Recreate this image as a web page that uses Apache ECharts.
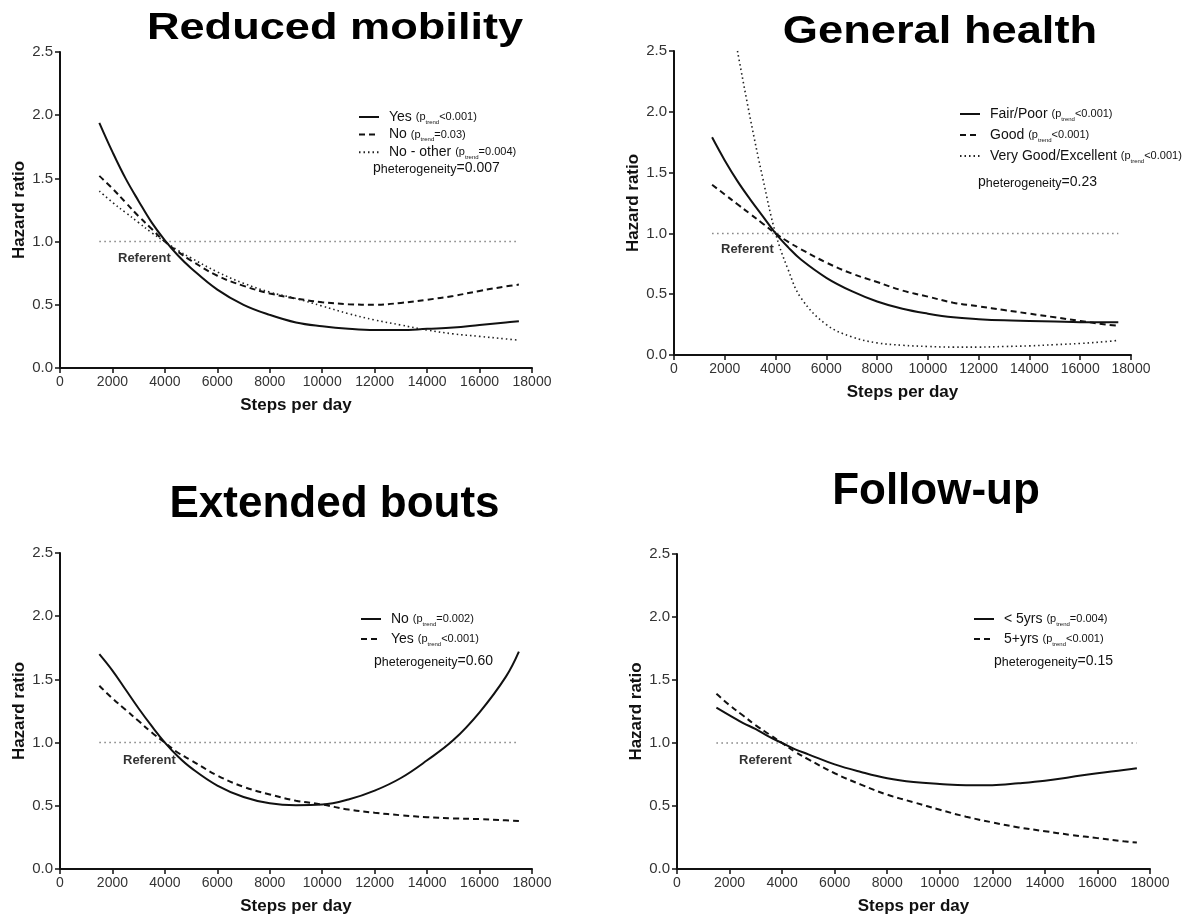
<!DOCTYPE html>
<html>
<head>
<meta charset="utf-8">
<script src="https://cdn.jsdelivr.net/npm/echarts@6/dist/echarts.min.js"></script>
<style>
html,body{margin:0;padding:0;background:#fff;}
#chart{width:1188px;height:919px;}
</style>
</head>
<body>
<div id="chart"></div>
<script>
// ---- data ----
const steps = [1500,2000,2500,3000,3500,4000,4500,5000,6000,7000,8000,9000,10000,11000,12000,13000,14000,15000,16000,17000,17500];
const refSteps = [1500,17500];
const refValues = [1,1];

// Reduced mobility
const mobYes   = [1.94,1.71,1.50,1.32,1.15,1.01,0.89,0.79,0.62,0.50,0.42,0.36,0.33,0.31,0.30,0.30,0.31,0.32,0.34,0.36,0.37];
const mobNo    = [1.52,1.42,1.31,1.20,1.10,1.00,0.92,0.85,0.73,0.65,0.59,0.55,0.52,0.505,0.50,0.515,0.54,0.57,0.61,0.645,0.66];
const mobOther = [1.40,1.31,1.23,1.15,1.07,1.00,0.93,0.87,0.76,0.67,0.60,0.55,0.49,0.43,0.38,0.34,0.30,0.27,0.25,0.23,0.22];

// General health
const ghFair = [1.79,1.60,1.43,1.28,1.14,1.00,0.885,0.785,0.635,0.525,0.44,0.38,0.34,0.31,0.295,0.285,0.28,0.275,0.27,0.27,0.27];
const ghGood = [1.40,1.32,1.24,1.16,1.08,1.00,0.93,0.87,0.76,0.67,0.60,0.53,0.48,0.43,0.40,0.37,0.34,0.31,0.28,0.25,0.24];
const ghVery = [null,null,2.50,1.95,1.45,1.00,0.70,0.47,0.25,0.15,0.10,0.08,0.07,0.065,0.065,0.07,0.075,0.085,0.095,0.11,0.12];

// Extended bouts
const boutNo  = [1.70,1.57,1.42,1.27,1.13,1.00,0.89,0.80,0.66,0.57,0.52,0.505,0.51,0.55,0.62,0.72,0.86,1.02,1.24,1.52,1.72];
const boutYes = [1.45,1.35,1.26,1.17,1.08,1.00,0.92,0.86,0.74,0.65,0.59,0.54,0.51,0.47,0.445,0.425,0.41,0.40,0.395,0.385,0.38];

// Follow-up
const fuLt5 = [1.28,1.22,1.16,1.11,1.05,1.00,0.95,0.91,0.83,0.77,0.72,0.69,0.675,0.665,0.665,0.68,0.70,0.73,0.76,0.785,0.80];
const fuGe5 = [1.39,1.30,1.22,1.14,1.07,1.00,0.93,0.87,0.76,0.67,0.59,0.53,0.47,0.415,0.37,0.33,0.30,0.27,0.245,0.22,0.21];

const panelTitles = ['Reduced mobility','General health','Extended bouts','Follow-up'];
const legendLabels = {
  mob_yes:['Yes','<0.001'], mob_no:['No','=0.03'], mob_other:['No - other','=0.004'],
  gh_fair:['Fair/Poor','<0.001'], gh_good:['Good','<0.001'], gh_very:['Very Good/Excellent','<0.001'],
  bout_no:['No','=0.002'], bout_yes:['Yes','<0.001'],
  fu_lt5:['< 5yrs','=0.004'], fu_ge5:['5+yrs','<0.001']
};
const hetValues = ['=0.007','=0.23','=0.60','=0.15'];

// ---- layout ----
const FF = '"Liberation Sans", Arial, Helvetica, sans-serif';
const grids = [
  {left:60,  top:52,  width:472, height:316},
  {left:674, top:51,  width:457, height:304},
  {left:60,  top:553, width:472, height:316},
  {left:677, top:554, width:473, height:315}
];
const yNameGap = [31, 28, 31, 27];

const pairs = ys => steps.map((s,i)=>[s, ys[i]]);
const styles = {
  solid:  {color:'#111', width:2, type:'solid'},
  dashed: {color:'#111', width:2, type:[6,4]},
  dotted: {color:'#222', width:1.6, type:[1.5,3]}
};
function curve(name, ys, grid, st){
  return {name, type:'line', xAxisIndex:grid, yAxisIndex:grid, data:pairs(ys),
    smooth:0.4, symbol:'none', showSymbol:false, lineStyle:styles[st], itemStyle:{color:'#111'},
    animation:false, silent:true};
}
function refLine(grid){
  return {name:'ref'+grid, type:'line', xAxisIndex:grid, yAxisIndex:grid,
    data:refSteps.map((s,i)=>[s, refValues[i]]), symbol:'none',
    lineStyle:{color:'#808080', width:1.5, type:[1.5,3.5]}, animation:false, silent:true};
}

const series = [
  refLine(0), refLine(1), refLine(2), refLine(3),
  curve('mob_yes', mobYes, 0, 'solid'),
  curve('mob_no', mobNo, 0, 'dashed'),
  curve('mob_other', mobOther, 0, 'dotted'),
  curve('gh_fair', ghFair, 1, 'solid'),
  curve('gh_good', ghGood, 1, 'dashed'),
  curve('gh_very', ghVery, 1, 'dotted'),
  curve('bout_no', boutNo, 2, 'solid'),
  curve('bout_yes', boutYes, 2, 'dashed'),
  curve('fu_lt5', fuLt5, 3, 'solid'),
  curve('fu_ge5', fuGe5, 3, 'dashed')
];

const xAxis = grids.map((g,i)=>({
  gridIndex:i, type:'value', min:0, max:18000, interval:2000,
  axisLine:{show:true, onZero:false, lineStyle:{color:'#111', width:2}},
  axisTick:{show:true, length:5, lineStyle:{color:'#111', width:1.5}},
  axisLabel:{fontSize:14, color:'#333', margin:7, fontFamily:FF, formatter:v=>String(v)},
  splitLine:{show:false},
  name:'Steps per day', nameLocation:'middle', nameGap:29,
  nameTextStyle:{fontSize:17, fontWeight:'bold', color:'#111', fontFamily:FF}
}));
const yAxis = grids.map((g,i)=>({
  gridIndex:i, type:'value', min:0, max:2.5, interval:0.5,
  axisLine:{show:true, onZero:false, lineStyle:{color:'#111', width:2}},
  axisTick:{show:true, length:5, lineStyle:{color:'#111', width:1.5}},
  axisLabel:{fontSize:15, color:'#333', margin:7, fontFamily:FF, formatter:v=>v.toFixed(1)},
  splitLine:{show:false},
  name:'Hazard ratio', nameLocation:'middle', nameGap:yNameGap[i], nameRotate:90,
  nameTextStyle:{fontSize:17, fontWeight:'bold', color:'#111', fontFamily:FF}
}));

const legendRich = {
  a:{fontSize:14, color:'#111', fontFamily:FF, lineHeight:16},
  b:{fontSize:11, color:'#111', fontFamily:FF, lineHeight:16},
  c:{fontSize:6, color:'#111', fontFamily:FF, lineHeight:12, verticalAlign:'bottom'}
};
const legendFmt = name => `{a|${legendLabels[name][0]} }{b|(p}{c|trend}{b|${legendLabels[name][1]})}`;
function legend(data, left, top, gap){
  return {data, left, top, orient:'vertical', itemWidth:20, itemHeight:14, itemGap:gap,
    selectedMode:false, formatter:legendFmt,
    itemStyle:{opacity:0, borderWidth:0},
    textStyle:{fontFamily:FF, color:'#111', padding:[0,0,0,5], rich:legendRich}};
}
const legends = [
  legend(['mob_yes','mob_no','mob_other'], 353, 105, 2.6),
  legend(['gh_fair','gh_good','gh_very'], 954, 102, 6),
  legend(['bout_no','bout_yes'], 355, 607, 5),
  legend(['fu_lt5','fu_ge5'], 968, 607, 5)
];

const titlePos = [
  {x:335, y:29, size:37, sx:1.22},
  {x:940, y:32, size:39, sx:1.16},
  {x:334.5, y:505, size:44, sx:1},
  {x:936, y:492, size:44, sx:1}
];
const refPos = [[118,258],[721,249],[123,760],[739,760]];
const hetPos = [[373,168],[978,182],[374,661],[994,661]];

const graphic = [];
panelTitles.forEach((t,i)=>{
  const p = titlePos[i];
  graphic.push({type:'text', x:p.x, y:p.y, scaleX:p.sx, silent:true,
    style:{text:t, fontSize:p.size, fontWeight:'bold', fontFamily:FF, fill:'#000',
      align:'center', verticalAlign:'middle'}});
  graphic.push({type:'text', x:refPos[i][0], y:refPos[i][1], silent:true,
    style:{text:'Referent', fontSize:13, fontWeight:'bold', fontFamily:FF, fill:'#333',
      align:'left', verticalAlign:'middle'}});
  graphic.push({type:'text', x:hetPos[i][0], y:hetPos[i][1], silent:true,
    style:{text:`{p|p}{h|heterogeneity}{p|${hetValues[i]}}`, align:'left', verticalAlign:'middle',
      rich:{p:{fontSize:14, fontFamily:FF, fill:'#111', lineHeight:16},
            h:{fontSize:12.5, fontFamily:FF, fill:'#111', lineHeight:16, verticalAlign:'bottom'}}}});
});

const chart = echarts.init(document.getElementById('chart'), null, {renderer:'canvas'});
chart.setOption({
  backgroundColor:'#fff',
  animation:false,
  grid:grids.map(g=>Object.assign({containLabel:false}, g)),
  xAxis, yAxis, series, legend:legends, graphic
});
</script>
</body>
</html>
